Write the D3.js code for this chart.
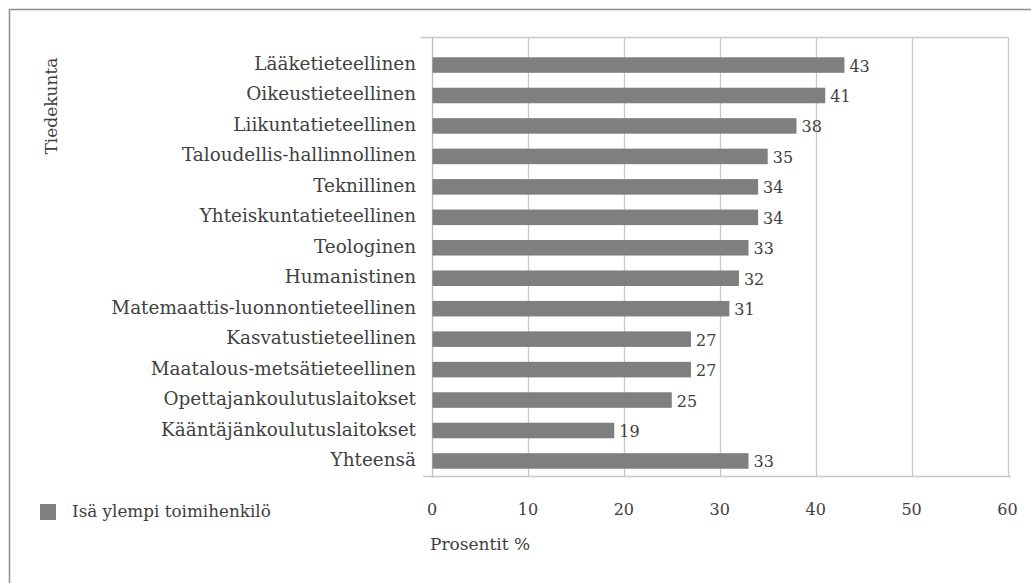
<!DOCTYPE html>
<html>
<head>
<meta charset="utf-8">
<script src="https://cdn.jsdelivr.net/npm/d3@7"></script>
<style>
  html, body { margin: 0; padding: 0; background: #fff; }
  svg { display: block; }
  text { font-family: "DejaVu Serif", serif; fill: #404040; }
</style>
</head>
<body>
<svg id="chart" width="1031" height="583"></svg>
<script>
// Faculties (tiedekunnat), top to bottom
const categories = [
  "Lääketieteellinen",
  "Oikeustieteellinen",
  "Liikuntatieteellinen",
  "Taloudellis-hallinnollinen",
  "Teknillinen",
  "Yhteiskuntatieteellinen",
  "Teologinen",
  "Humanistinen",
  "Matemaattis-luonnontieteellinen",
  "Kasvatustieteellinen",
  "Maatalous-metsätieteellinen",
  "Opettajankoulutuslaitokset",
  "Kääntäjänkoulutuslaitokset",
  "Yhteensä"
];
// Share (%) whose father is an upper white-collar employee
const values = [43, 41, 38, 35, 34, 34, 33, 32, 31, 27, 27, 25, 19, 33];
const xTicks = [0, 10, 20, 30, 40, 50, 60];
const seriesName = "Isä ylempi toimihenkilö";
const yTitle = "Tiedekunta";
const xTitle = "Prosentit %";

const svg = d3.select("#chart");
const W = 1031, H = 583;

const barColor = "#7f7f7f";
const gridColor = "#c8c8c8";

// outer frame (right and bottom edges fall outside the canvas)
svg.append("rect")
  .attr("x", 9.5).attr("y", 9.5)
  .attr("width", W).attr("height", H)
  .attr("fill", "none").attr("stroke", "#8c8c8c").attr("stroke-width", 1.5);

const plotTop = 37.5, plotBottom = 476.5;
const x = d3.scaleLinear().domain([0, 60]).range([432, 1007.5]);
const y = d3.scaleBand().domain(categories).range([49.8, 476.2]).paddingInner(0.49).paddingOuter(0.245);

// vertical gridlines
svg.append("g").selectAll("line")
  .data(xTicks.slice(1))
  .join("line")
  .attr("x1", d => Math.round(x(d)) + 0.5).attr("x2", d => Math.round(x(d)) + 0.5)
  .attr("y1", plotTop).attr("y2", plotBottom)
  .attr("stroke", gridColor).attr("stroke-width", 1.3);

// top border of plot area
svg.append("line")
  .attr("x1", 421).attr("x2", x(60) + 1)
  .attr("y1", plotTop).attr("y2", plotTop)
  .attr("stroke", gridColor).attr("stroke-width", 1.3);

// bottom value axis line
svg.append("line")
  .attr("x1", 423).attr("x2", 1011)
  .attr("y1", plotBottom).attr("y2", plotBottom)
  .attr("stroke", gridColor).attr("stroke-width", 1.3);

// category axis line
svg.append("line")
  .attr("x1", Math.round(x(0)) + 0.5).attr("x2", Math.round(x(0)) + 0.5)
  .attr("y1", plotTop).attr("y2", plotBottom + 1)
  .attr("stroke", "#bdbdbd").attr("stroke-width", 1.3);

// bars
svg.append("g").selectAll("rect")
  .data(values)
  .join("rect")
  .attr("x", x(0) + 0.5)
  .attr("y", (d, i) => y(categories[i]))
  .attr("width", d => x(d) - x(0) - 0.5)
  .attr("height", y.bandwidth())
  .attr("fill", barColor);

// value labels
svg.append("g").selectAll("text")
  .data(values)
  .join("text")
  .attr("x", d => x(d) + 5)
  .attr("y", (d, i) => y(categories[i]) + y.bandwidth() / 2 + 2)
  .attr("dominant-baseline", "middle")
  .style("font-size", "16px")
  .text(d => d);

// category labels
svg.append("g").selectAll("text")
  .data(categories)
  .join("text")
  .attr("x", 416)
  .attr("y", d => y(d) + y.bandwidth() / 2)
  .attr("text-anchor", "end")
  .attr("dominant-baseline", "middle")
  .style("font-size", "18.4px")
  .text(d => d);

// x tick labels
svg.append("g").selectAll("text")
  .data(xTicks)
  .join("text")
  .attr("x", d => x(d))
  .attr("y", 510)
  .attr("text-anchor", "middle")
  .attr("dominant-baseline", "middle")
  .style("font-size", "16px")
  .text(d => d);

// x axis title
svg.append("text")
  .attr("x", 430).attr("y", 545)
  .attr("dominant-baseline", "middle")
  .style("font-size", "17px")
  .text(xTitle);

// y axis title
svg.append("text")
  .attr("transform", "translate(52,106) rotate(-90)")
  .attr("text-anchor", "middle")
  .attr("dominant-baseline", "middle")
  .style("font-size", "17px")
  .text(yTitle);

// legend
svg.append("rect")
  .attr("x", 40).attr("y", 504)
  .attr("width", 16).attr("height", 16)
  .attr("fill", barColor);
svg.append("text")
  .attr("x", 72).attr("y", 512)
  .attr("dominant-baseline", "middle")
  .style("font-size", "16.8px")
  .text(seriesName);
</script>
</body>
</html>
